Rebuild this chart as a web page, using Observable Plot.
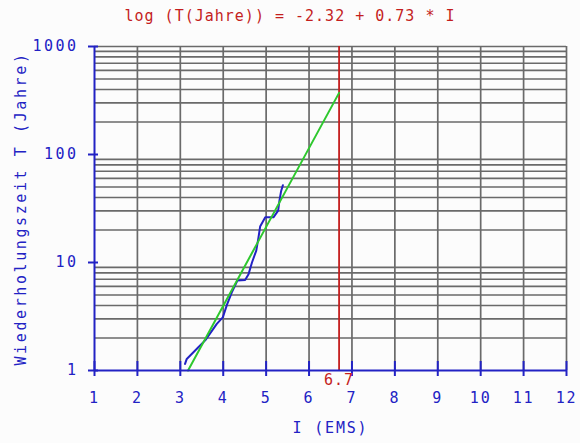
<!DOCTYPE html>
<html>
<head>
<meta charset="utf-8">
<script src="https://cdn.jsdelivr.net/npm/d3@7"></script>
<script src="https://cdn.jsdelivr.net/npm/@observablehq/plot@0.6"></script>
<style>
  html, body { margin: 0; padding: 0; background: #fcfcfc; }
  #title { width: 580px; height: 30px; padding-top: 3px; box-sizing: border-box; text-align: center;
    font-family: "DejaVu Sans Mono", monospace; font-size: 15px; letter-spacing: 1px; color: #c41e1e; line-height: 26px; }
  svg { display: block; }
</style>
</head>
<body>
<div id="title"></div>
<div id="chart"></div>
<script>
const titleText = "log (T(Jahre)) = -2.32 + 0.73 * I";
const xLabel = "I (EMS)";
const yLabel = "Wiederholungszeit T (Jahre)";
const xTicks = [1, 2, 3, 4, 5, 6, 7, 8, 9, 10, 11, 12];
const yMajor = [1, 10, 100, 1000];
const yGrid = [2, 3, 4, 5, 6, 7, 8, 9, 20, 30, 40, 50, 60, 70, 80, 90, 200, 300, 400, 500, 600, 700, 800, 900, 1000];
// observed empirical curve
const obsI = [3.11, 3.15, 3.42, 3.58, 3.85, 3.99, 4.09, 4.20, 4.33, 4.51, 4.59, 4.67, 4.77, 4.82, 4.86, 4.98, 5.17, 5.28, 5.31, 5.35, 5.39];
const obsT = [1.15, 1.28, 1.64, 1.9, 2.7, 3.1, 4.1, 5.3, 6.8, 6.9, 7.8, 10, 12.9, 16.9, 21.5, 26.2, 26.2, 30.2, 37.4, 46, 52];
// regression line
const fitI = [3.18, 6.7];
const fitT = [1, 372];
const marker = 6.7;

const blue = "#2222c4", red = "#c41e1e", green = "#2ec82e", gray = "#6a6a6a";
const font = "DejaVu Sans Mono";

document.getElementById("title").textContent = titleText;

const obs = obsI.map((x, i) => ({x, y: obsT[i]}));
const fit = fitI.map((x, i) => ({x, y: fitT[i]}));

const H = 413, mT = 16, mB = 73;
const plotH = H - mT - mB;

const chart = Plot.plot({
  width: 580,
  height: H,
  marginLeft: 94,
  marginRight: 14,
  marginTop: mT,
  marginBottom: mB,
  style: {background: "transparent", fontFamily: font},
  x: {domain: [1, 12], axis: null},
  y: {type: "log", domain: [1, 1000], axis: null},
  marks: [
    Plot.gridY(yGrid, {stroke: gray, strokeOpacity: 1, strokeWidth: 1.7}),
    Plot.gridX(xTicks.slice(1), {stroke: gray, strokeOpacity: 1, strokeWidth: 1.7}),
    Plot.ruleX([marker], {x: d => d, stroke: red, strokeWidth: 1.8}),
    Plot.line(obs, {x: "x", y: "y", stroke: blue, strokeWidth: 2}),
    Plot.line(fit, {x: "x", y: "y", stroke: green, strokeWidth: 2}),
    // axes lines
    Plot.ruleY([1], {stroke: blue, strokeWidth: 2}),
    Plot.ruleX([1], {stroke: blue, strokeWidth: 2}),
    // crossing ticks
    Plot.ruleX(xTicks, {x: d => d, stroke: blue, strokeWidth: 2, insetTop: plotH - 9, insetBottom: -6}),
    Plot.ruleY(yMajor, {y: d => d, stroke: blue, strokeWidth: 2, x1: 1, x2: 1, insetLeft: -6, insetRight: -4}),
    // tick labels
    Plot.text(xTicks, {x: d => d, frameAnchor: "bottom", dy: 32, text: d => String(d), fill: blue, fontSize: 15, fontFamily: font}),
    Plot.text(yMajor, {y: d => d, frameAnchor: "left", dx: -16, textAnchor: "end", text: d => String(d), fill: blue, fontSize: 15, fontFamily: font}),
    Plot.text([marker], {x: d => d, frameAnchor: "bottom", dy: 14, text: d => d.toFixed(1), fill: red, fontSize: 15, fontFamily: font}),
    // axis labels
    Plot.text([xLabel], {frameAnchor: "bottom", dy: 62, text: d => d, fill: blue, fontSize: 15, fontFamily: font}),
    Plot.text([yLabel], {frameAnchor: "left", dx: -73, rotate: -90, textAnchor: "middle", text: d => d, fill: blue, fontSize: 15, fontFamily: font})
  ]
});
// letter spacing per text mark (in mark order)
const spacings = ["1.8px", "2.5px", "1px", "1.8px", "2.6px"];
chart.querySelectorAll('g[aria-label="text"]').forEach((g, i) => {
  if (spacings[i]) g.style.letterSpacing = spacings[i];
});
document.getElementById("chart").append(chart);
</script>
</body>
</html>
